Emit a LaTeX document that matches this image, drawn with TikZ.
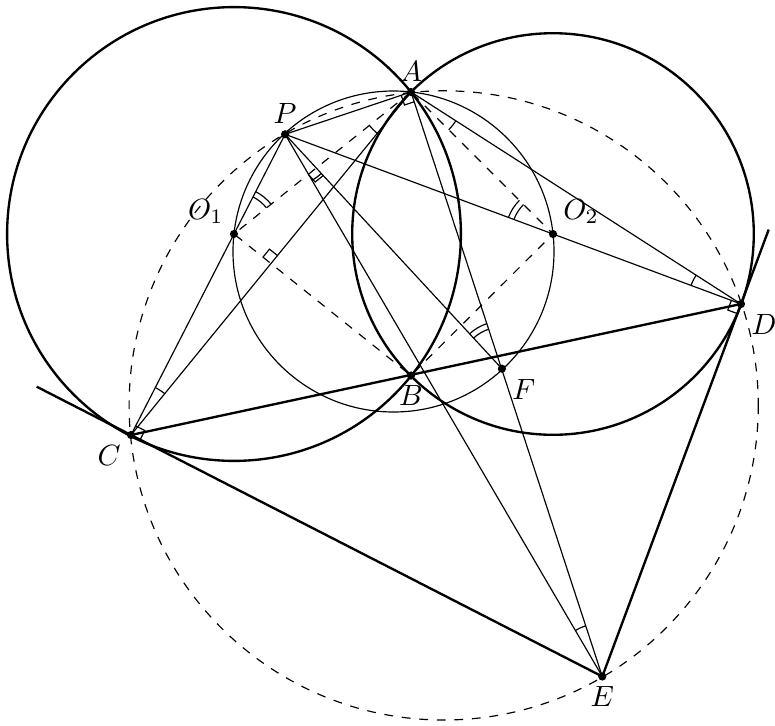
\documentclass[tikz,border=0pt]{standalone}
\usetikzlibrary{angles,calc}
\begin{document}
\begin{tikzpicture}[x=0.012cm,y=-0.012cm]
	\useasboundingbox (0,0) rectangle (775,726);
	\def\rone{226.9}
	\def\rtwo{200.8}
	\def\rs{0.64cm}
	\def\rd{0.5cm}

	\coordinate [label=above:$A$] (A) at (411,92);
	\coordinate [label=below:$B$] (B) at (411,375.5);
	\coordinate [label=below left:$C$] (C) at (131,435);
	\coordinate [label=below right:$D$] (D) at (741,304);
	\coordinate [label=below:$E$] (E) at (602.3,676.5);
	\coordinate [label=below right:$F$] (F) at (501.9,368.7);
	\coordinate [label=above:$P$] (P) at (285.1,134.3);
	\coordinate [label=above left:$O_1$] (O1) at (234,234);
	\coordinate [label=above right:$O_2$] (O2) at (553,234);
	\coordinate (K) at (393.5,251.5);
	\coordinate (Q) at (443.7,405.4);
	\coordinate (T1) at ($(C)!-0.2!(E)$);
	\coordinate (T2) at ($(D)!-0.2!(E)$);
	\coordinate (M1) at (intersection of P--F and O1--A);
	\coordinate (M2) at ($(A)!0.5!(C)$);

	\draw[thick] (O1) circle (\rone);
	\draw[thick] (O2) circle (\rtwo);
	\draw (K) circle (160.5);
	\draw[dashed] (Q) circle (314.6);

	\draw[dashed] (A) -- (O1) -- (B) -- (O2) -- cycle;

	\draw[thick] (C) -- (D);
	\draw[thick] (T1) -- (E) -- (T2);

	\draw (P) -- (C);
	\draw (P) -- (D);
	\draw (P) -- (A);
	\draw (P) -- (F);
	\draw (P) -- (E);
	\draw (A) -- (C);
	\draw (A) -- (D);
	\draw (A) -- (E);

	% equal angles
	\foreach \a/\v/\b in {A/C/P, O1/A/C, O2/A/D, A/D/O2, E/P/F, A/E/P}
		\pic[draw, angle radius=\rs] {angle=\a--\v--\b};
	\foreach \v in {O1,O2,F}{
		\pic[draw, angle radius=\rd] {angle=A--\v--P};
		\pic[draw, angle radius=\rd+2pt] {angle=A--\v--P};
	}

	% right angles
	\foreach \a/\v/\b in {P/A/F, O1/C/E, O2/D/E, F/M1/O1, A/M2/O1}
		\pic[draw, angle radius=3.5pt] {right angle=\a--\v--\b};

	\foreach \p in {A,B,C,D,E,F,P,O1,O2}
		\fill (\p) circle (1.4pt);
\end{tikzpicture}
\end{document}
